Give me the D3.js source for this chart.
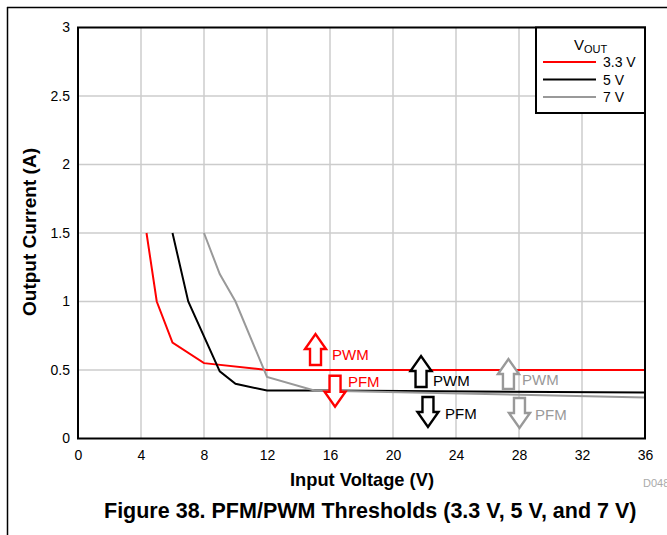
<!DOCTYPE html>
<html><head><meta charset="utf-8">
<script src="https://cdn.jsdelivr.net/npm/d3@7"></script>
<style>body{margin:0;background:#fff;} text{font-family:"Liberation Sans",Arial,sans-serif;}</style>
</head><body>
<svg id="c" width="667" height="535"></svg>
<script>
// ---- data ----
const xTicks = [0,4,8,12,16,20,24,28,32,36];
const yTicks = [0,0.5,1,1.5,2,2.5,3];
const yTickLabels = ["0","0.5","1","1.5","2","2.5","3"];
const seriesNames = ["3.3 V","5 V","7 V"];
const seriesColors = ["#ff0000","#000000","#999999"];
const vin33 = [4.35, 5, 6, 8, 12, 36];
const iout33 = [1.5, 1.0, 0.7, 0.55, 0.5, 0.5];
const vin5 = [6, 7, 9, 10, 12, 16, 36];
const iout5 = [1.5, 1.0, 0.49, 0.40, 0.35, 0.35, 0.335];
const vin7 = [8, 9, 10, 12, 15, 36];
const iout7 = [1.5, 1.2, 1.0, 0.45, 0.35, 0.30];
// PWM/PFM annotation arrows (data units): centre vin, tail current, tip current
const annVin = [15.08, 16.32, 21.78, 22.22, 27.33, 28.03];
const annFrom = [0.536, 0.458, 0.376, 0.303, 0.361, 0.296];
const annTo = [0.763, 0.232, 0.602, 0.084, 0.580, 0.077];
const annLabel = ["PWM","PFM","PWM","PFM","PWM","PFM"];
const annSeries = [0,0,1,1,2,2];
const annLabelVin = [16.13, 17.14, 22.54, 23.30, 28.19, 29.02];
const annLabelI = [0.573, 0.376, 0.383, 0.142, 0.391, 0.135];

const svg = d3.select("#c");
const L=78, R=645, T=27.5, B=438.5;
const x = d3.scaleLinear().domain([0,36]).range([L,R]);
const y = d3.scaleLinear().domain([0,3]).range([B,T]);

// frame lines
svg.append("line").attr("x1",7).attr("x2",667).attr("y1",7.5).attr("y2",7.5).attr("stroke","#000").attr("stroke-width",1.5);
svg.append("line").attr("x1",7.5).attr("x2",7.5).attr("y1",7).attr("y2",535).attr("stroke","#000").attr("stroke-width",1.5);

// grid
svg.append("g").selectAll("line").data(xTicks.slice(1,-1)).join("line")
  .attr("x1",d=>x(d)).attr("x2",d=>x(d)).attr("y1",T).attr("y2",B)
  .attr("stroke","#cccccc").attr("stroke-width",1.5);
svg.append("g").selectAll("line").data(yTicks.slice(1,-1)).join("line")
  .attr("x1",L).attr("x2",R).attr("y1",d=>y(d)).attr("y2",d=>y(d))
  .attr("stroke","#cccccc").attr("stroke-width",1.5);

// axes
const xAxis = d3.axisBottom(x).tickValues(xTicks).tickSize(0).tickPadding(12);
const gx = svg.append("g").attr("transform",`translate(0,${B})`).call(xAxis);
gx.select(".domain").remove();
gx.selectAll("text").attr("font-size",14).attr("fill","#000").attr("font-family","Liberation Sans, Arial, sans-serif");
const yAxis = d3.axisLeft(y).tickValues(yTicks).tickSize(0).tickPadding(8).tickFormat((d,i)=>yTickLabels[i]);
const gy = svg.append("g").attr("transform",`translate(${L},0)`).call(yAxis);
gy.select(".domain").remove();
gy.selectAll("text").attr("font-size",14).attr("fill","#000").attr("font-family","Liberation Sans, Arial, sans-serif");

// lines
const line = d3.line().x(d=>x(d[0])).y(d=>y(d[1]));
const series = [d3.zip(vin33,iout33), d3.zip(vin5,iout5), d3.zip(vin7,iout7)];
svg.append("clipPath").attr("id","pc").append("rect").attr("x",L).attr("y",T).attr("width",R-L).attr("height",B-T);
svg.append("g").attr("clip-path","url(#pc)").selectAll("path").data(series).join("path")
  .attr("d",line).attr("fill","none").attr("stroke",(d,i)=>seriesColors[i]).attr("stroke-width",2);

// annotation arrows
function arrowPath(cx, y0, y1){
  const s = y1 < y0 ? -1 : 1;
  const hw = 10.5, sw = 5.5, hh = 15;
  const neck = y1 - s*hh;
  return `M${cx-sw},${y0} L${cx-sw},${neck} L${cx-hw},${neck} L${cx},${y1} L${cx+hw},${neck} L${cx+sw},${neck} L${cx+sw},${y0} Z`;
}
const ann = annVin.map((v,i)=>({v, f:annFrom[i], t:annTo[i], lab:annLabel[i], s:annSeries[i], lx:annLabelVin[i], ly:annLabelI[i]}));
const ag = svg.append("g");
ag.selectAll("path").data(ann).join("path")
  .attr("d",d=>arrowPath(x(d.v), y(d.f), y(d.t)))
  .attr("fill","#fff").attr("stroke",d=>seriesColors[d.s]).attr("stroke-width",2.4).attr("stroke-linejoin","miter");
ag.selectAll("text").data(ann).join("text")
  .attr("x",d=>x(d.lx)).attr("y",d=>y(d.ly))
  .attr("font-family","Open Sans, sans-serif").attr("font-size",15)
  .attr("fill",d=>seriesColors[d.s]).text(d=>d.lab);

// plot border
svg.append("rect").attr("x",L).attr("y",T).attr("width",R-L).attr("height",B-T)
  .attr("fill","none").attr("stroke","#000").attr("stroke-width",2);

// legend
const lg = svg.append("g");
lg.append("rect").attr("x",536).attr("y",T).attr("width",R-536).attr("height",85.5)
  .attr("fill","#fff").attr("stroke","#000").attr("stroke-width",2);
const vt = lg.append("text").attr("x",574).attr("y",50).attr("font-size",15);
vt.append("tspan").text("V");
vt.append("tspan").attr("font-size",11).attr("dy",3).text("OUT");
lg.selectAll("line.l").data(seriesNames).join("line").attr("class","l")
  .attr("x1",543).attr("x2",596).attr("y1",(d,i)=>62+i*17.5).attr("y2",(d,i)=>62+i*17.5)
  .attr("stroke",(d,i)=>seriesColors[i]).attr("stroke-width",2);
lg.selectAll("text.n").data(seriesNames).join("text").attr("class","n")
  .attr("x",603).attr("y",(d,i)=>67+i*17.5).attr("font-size",14).text(d=>d);

// titles
svg.append("text").attr("x",362).attr("y",486).attr("text-anchor","middle")
  .attr("font-size",19).attr("font-weight","bold").attr("textLength",144).attr("lengthAdjust","spacingAndGlyphs").text("Input Voltage (V)");
svg.append("text").attr("transform",`translate(36,${(T+B)/2 - 1}) rotate(-90)`).attr("text-anchor","middle")
  .attr("font-size",19).attr("font-weight","bold").attr("textLength",168).attr("lengthAdjust","spacingAndGlyphs").text("Output Current (A)");
svg.append("text").attr("x",643).attr("y",487).attr("font-size",11).attr("fill","#aaa").text("D048");
svg.append("text").attr("x",104).attr("y",518).attr("font-size",21.5).attr("font-weight","bold").text("Figure 38. PFM/PWM Thresholds (3.3 V, 5 V, and 7 V)");
</script>
</body></html>
